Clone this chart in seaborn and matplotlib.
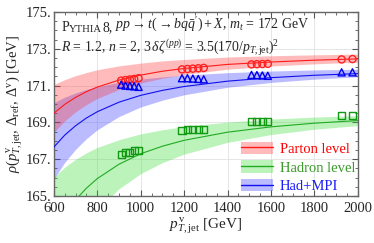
import numpy as np
import pandas as pd
import matplotlib
matplotlib.use("Agg")
import matplotlib.pyplot as plt
import seaborn as sns
from matplotlib.patches import Patch
from matplotlib.lines import Line2D
from matplotlib.ticker import MultipleLocator, FixedLocator, FixedFormatter

# ---------------- data ----------------
pt_points = [910, 930, 950, 970, 990,
             1190, 1215, 1240, 1265, 1290,
             1510, 1535, 1560, 1585,
             1925, 1975]
parton_vals = [171.27, 171.30, 171.33, 171.36, 171.40,
               171.88, 171.90, 171.92, 171.94, 171.96,
               172.15, 172.16, 172.17, 172.18,
               172.42, 172.44]
hadron_vals = [167.27, 167.36, 167.38, 167.47, 167.47,
               168.58, 168.60, 168.60, 168.62, 168.62,
               169.05, 169.05, 169.04, 169.03,
               169.36, 169.36]
hadmpi_vals = [171.05, 171.00, 170.98, 170.96, 170.93,
               171.40, 171.40, 171.38, 171.36, 171.34,
               171.58, 171.57, 171.55, 171.53,
               171.72, 171.72]

pt_curve = [600, 650, 700, 750, 800, 900, 1000, 1100, 1200, 1400, 1600, 1800, 2000]
parton_fit = [169.50, 169.98, 170.36, 170.67, 170.92, 171.30, 171.57, 171.78, 171.93, 172.15, 172.28, 172.38, 172.45]
parton_hi = [171.06, 171.32, 171.54, 171.71, 171.86, 172.07, 172.22, 172.34, 172.42, 172.55, 172.62, 172.67, 172.71]
parton_lo = [168.46, 169.08, 169.58, 169.97, 170.30, 170.79, 171.14, 171.40, 171.60, 171.89, 172.06, 172.18, 172.27]
hadron_fit = [163.03, 164.01, 164.80, 165.43, 165.95, 166.73, 167.30, 167.71, 168.03, 168.47, 168.76, 168.96, 169.10]
hadron_hi = [166.03, 166.57, 167.00, 167.35, 167.64, 168.06, 168.38, 168.60, 168.78, 169.02, 169.18, 169.29, 169.37]
hadron_lo = [160.03, 161.45, 162.60, 163.51, 164.26, 165.40, 166.22, 166.82, 167.28, 167.92, 168.34, 168.63, 168.83]
hadmpi_fit = [167.66, 168.31, 168.82, 169.24, 169.58, 170.10, 170.47, 170.74, 170.95, 171.24, 171.43, 171.56, 171.65]
hadmpi_hi = [170.07, 170.37, 170.60, 170.79, 170.94, 171.18, 171.35, 171.47, 171.57, 171.70, 171.79, 171.85, 171.885]
hadmpi_lo = [165.93, 166.83, 167.54, 168.12, 168.60, 169.32, 169.84, 170.21, 170.50, 170.91, 171.17, 171.35, 171.48]

series_names = ["Parton level", "Hadron level", "Had+MPI"]
x_ticks = [600, 800, 1000, 1200, 1400, 1600, 1800, 2000]
y_ticks = [165, 167, 169, 171, 173, 175]
y_ticklabels = ["165.", "167.", "169.", "171.", "173.", "175."]

# ---------------- style ----------------
sns.set_theme(style="ticks")
plt.rcParams["font.family"] = ["Liberation Serif", "DejaVu Serif"]
plt.rcParams["mathtext.fontset"] = "custom"
plt.rcParams["mathtext.rm"] = "Liberation Serif"
plt.rcParams["mathtext.it"] = "Liberation Serif:italic"
plt.rcParams["mathtext.bf"] = "Liberation Serif:bold"
plt.rcParams["mathtext.fallback"] = "stix"

fig = plt.figure(figsize=(3.74, 2.43), dpi=100)
ax = fig.add_axes([0.144, 0.193, 0.813, 0.758])

styles = {
    "Parton level": dict(line="#ff1a1a", band="#ff3333", balpha=0.33, mk="o", mc="#ff2020", txt="#ff0000"),
    "Hadron level": dict(line="#22aa22", band="#33dd33", balpha=0.33, mk="s", mc="#119911", txt="#3a9a2a"),
    "Had+MPI": dict(line="#1111ee", band="#3333ff", balpha=0.33, mk="^", mc="#0000ee", txt="#1a1aff"),
}
fits = {"Parton level": (parton_fit, parton_lo, parton_hi),
        "Hadron level": (hadron_fit, hadron_lo, hadron_hi),
        "Had+MPI": (hadmpi_fit, hadmpi_lo, hadmpi_hi)}
vals = {"Parton level": parton_vals, "Hadron level": hadron_vals, "Had+MPI": hadmpi_vals}

curve_df = pd.concat([pd.DataFrame({"pt": pt_curve, "fit": f, "lo": lo, "hi": hi, "series": n})
                      for n, (f, lo, hi) in fits.items()], ignore_index=True)
pts_df = pd.concat([pd.DataFrame({"pt": pt_points, "val": vals[n], "series": n})
                    for n in series_names], ignore_index=True)

# grid
ax.grid(True, which="major", color="#e2e2e2", lw=0.6)
ax.set_axisbelow(True)

# bands
for n in ["Hadron level", "Had+MPI", "Parton level"]:
    d = curve_df[curve_df.series == n]
    ax.fill_between(d.pt, d.lo, d.hi,
                    color=styles[n]["band"], alpha=styles[n]["balpha"], lw=0, zorder=1)

for n in series_names:
    d = curve_df[curve_df.series == n]
    sns.lineplot(data=d, x="pt", y="fit", ax=ax, color=styles[n]["line"], lw=0.8,
                 legend=False, zorder=3)
    p = pts_df[pts_df.series == n]
    sns.scatterplot(data=p, x="pt", y="val", ax=ax, marker=styles[n]["mk"],
                    facecolor="none", edgecolor=styles[n]["mc"], linewidth=1.0,
                    s=26, legend=False, zorder=4)

ax.set_xlim(600, 2000)
ax.set_ylim(165, 175)
ax.xaxis.set_major_locator(FixedLocator(x_ticks))
ax.xaxis.set_minor_locator(MultipleLocator(50))
ax.yaxis.set_major_locator(FixedLocator(y_ticks))
ax.yaxis.set_major_formatter(FixedFormatter(y_ticklabels))
ax.yaxis.set_minor_locator(MultipleLocator(0.5))
ax.tick_params(which="both", direction="in", top=True, right=True,
               color="#555555", labelsize=10.5)
ax.tick_params(axis="x", pad=4)
ax.tick_params(axis="y", pad=1.5)
ax.tick_params(which="major", length=4, width=0.8)
ax.tick_params(which="minor", length=2.2, width=0.6)
for s in ax.spines.values():
    s.set_color("#666666")
    s.set_linewidth(1.0)

ax.set_xlabel(r"$p^{\rm v}_{T,\rm jet}$ [GeV]", fontsize=11, labelpad=1)
ax.set_ylabel(r"$\rho(p^{\rm v}_{T,\rm jet},\,\Delta_{\rm ref},\,\Delta^{\rm v})$ [GeV]",
              fontsize=10.5, labelpad=1)

# annotation texts (small caps emulation for Pythia)
t1 = ax.text(0.025, 0.895, "P", transform=ax.transAxes, fontsize=10, va="baseline")
t2 = ax.annotate("YTHIA", xy=(1, 0), xycoords=t1, fontsize=7.7, va="bottom", ha="left")
t3 = ax.annotate("8,", xy=(1, 0), xycoords=t2, fontsize=10, va="bottom", ha="left")
t4 = ax.annotate(r"$pp \to t(\to b q\bar{q}') + X$, $m_t$ = 172 GeV", xy=(1, 0),
                 xycoords=t3, fontsize=10, va="bottom", ha="left",
                 xytext=(2.0, 0), textcoords="offset points")
ax.text(0.025, 0.785,
        r"$R$ = 1.2, $n$ = 2, 3$\,\delta\zeta^{(pp)}$ = 3.5(170/$p_{T,\rm jet}$)$^2$",
        transform=ax.transAxes, fontsize=9.9, va="baseline")

# legend
handles = []
for n in series_names:
    handles.append((Patch(facecolor=styles[n]["band"], alpha=styles[n]["balpha"], edgecolor="none"),
                    Line2D([], [], color=styles[n]["line"], lw=1.0)))
leg = ax.legend(handles, series_names, loc="lower right", frameon=False, fontsize=10.5,
                handlelength=2.2, handleheight=0.95, labelspacing=0.3, handletextpad=0.45,
                borderaxespad=0.0, borderpad=0.2, bbox_to_anchor=(1.0, 0.0))
for txt, n in zip(leg.get_texts(), series_names):
    txt.set_color(styles[n]["txt"])

fig.savefig("out.png", dpi=100)
